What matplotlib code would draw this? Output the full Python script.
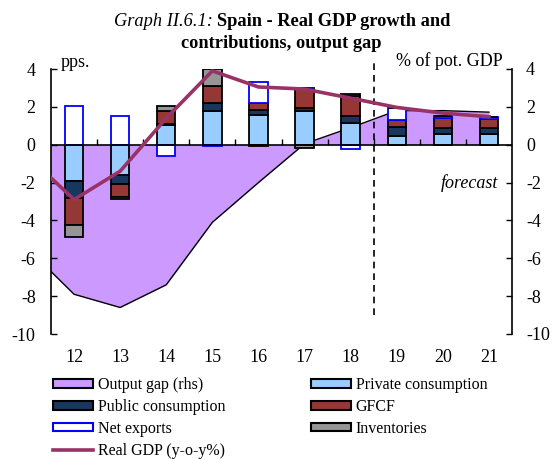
import numpy as np
import matplotlib
matplotlib.use('Agg')
import matplotlib.pyplot as plt
from matplotlib.patches import Patch
from matplotlib.lines import Line2D

plt.rcParams['font.family'] = ['Liberation Serif', 'DejaVu Serif']
plt.rcParams['axes.unicode_minus'] = False

years = ['12', '13', '14', '15', '16', '17', '18', '19', '20', '21']
# contributions (pps.)
private = [-1.9, -1.62, 1.06, 1.76, 1.58, 1.76, 1.14, 0.44, 0.58, 0.58]
public = [-0.9, -0.46, 0.04, 0.44, 0.27, 0.18, 0.36, 0.48, 0.30, 0.30]
gfcf = [-1.45, -0.7, 0.66, 0.88, 0.35, 1.05, 1.05, 0.40, 0.53, 0.48]
net_exports = [2.02, 1.53, -0.58, -0.05, 1.09, 0.0, -0.23, 0.62, 0.10, 0.10]
inventories = [-0.65, -0.09, 0.29, 0.92, -0.05, -0.15, 0.13, 0.0, 0.0, 0.0]
# lines start one year earlier (2011), clipped at the left edge
line_years = ['11'] + years
gdp = [-0.6, -2.9, -1.4, 1.4, 3.9, 3.05, 2.94, 2.46, 1.97, 1.67, 1.48]
output_gap = [-5.5, -7.9, -8.6, -7.4, -4.1, -2.0, 0.05, 0.9, 1.8, 1.8, 1.72]

c_gap = '#CC99FF'
c_priv = '#99CCFF'
c_pub = '#17375E'
c_gfcf = '#953735'
c_inv = '#969696'
c_nx = '#0000FF'
c_gdp = '#993366'

fig = plt.figure(figsize=(5.55, 4.59), dpi=100)
ax = fig.add_axes([51/555, 1-334/459, 461/555, 265/459])

x = np.arange(len(years))
xl = np.arange(len(line_years)) - 1

ax.fill_between(xl, output_gap, 0, color=c_gap, lw=0, zorder=1)
ax.plot(xl, output_gap, color='black', lw=1, zorder=1.5)

series = [(private, c_priv, 'black'), (public, c_pub, 'black'), (gfcf, c_gfcf, 'black'),
          (net_exports, 'white', c_nx), (inventories, c_inv, 'black')]
pos = np.zeros(len(x))
neg = np.zeros(len(x))
for vals, fc, ec in series:
    v = np.array(vals)
    bottom = np.where(v >= 0, pos, neg)
    ax.bar(x, v, 0.4, bottom=bottom, color=fc, edgecolor=ec, lw=1.3, zorder=2)
    pos += np.where(v >= 0, v, 0)
    neg += np.where(v < 0, v, 0)

ax.plot(xl, gdp, color=c_gdp, lw=2.6, zorder=4)
ax.axhline(0, color='black', lw=1.2, zorder=3)
ax.plot([6.5, 6.5], [-9.0, 4.3], color='black', lw=1.2, ls=(0, (4, 3)), zorder=3, clip_on=False)

ax.set_xlim(-0.5, 9.5)
ax.set_ylim(-10, 4)
ax.set_yticks(range(-10, 5, 2))
ax.set_xticks(x)
ax.set_xticklabels(years)
ax.set_xticks(np.arange(0.5, 9.5, 1), minor=True)
ax.spines['top'].set_visible(False)
ax.spines['right'].set_visible(False)
ax.spines['bottom'].set_position(('data', 0))
ax.spines['bottom'].set_visible(False)
ax.tick_params(axis='x', which='major', length=0, pad=147, labelsize=13)
ax.tick_params(axis='x', which='minor', direction='in', length=4, width=1, top=False)
ax.tick_params(axis='y', direction='in', length=4, width=1, pad=11, labelsize=13)
ax.spines['left'].set_linewidth(1.2)

ax2 = ax.twinx()
ax2.set_ylim(-10, 4)
ax2.set_yticks(range(-10, 5, 2))
for s in ['top', 'left', 'bottom']:
    ax2.spines[s].set_visible(False)
ax2.spines['right'].set_linewidth(1.2)
ax2.tick_params(axis='y', direction='in', length=4, width=1, pad=10, labelsize=13)

ax.text(0.02, 1.025, 'pps.', transform=ax.transAxes, fontsize=13, ha='left', va='center')
ax.text(0.98, 1.03, '% of pot. GDP', transform=ax.transAxes, fontsize=13, ha='right', va='center')
ax.text(0.97, 0.57, 'forecast', transform=ax.transAxes, fontsize=13, ha='right', va='center', style='italic')

fig.text(217/555, 1-21/459, 'Graph II.6.1: ', style='italic', fontsize=13.2, ha='right', va='center')
fig.text(217/555, 1-21/459, 'Spain - Real GDP growth and', weight='bold', fontsize=13.2, ha='left', va='center')
fig.text(281/555, 1-43/459, 'contributions, output gap', weight='bold', fontsize=13.2, ha='center', va='center')

def patch(fc, ec='black'):
    return Patch(facecolor=fc, edgecolor=ec, lw=1.5)

h1 = [patch(c_gap), patch(c_pub), patch('white', c_nx), Line2D([], [], color=c_gdp, lw=2.6)]
l1 = ['Output gap (rhs)', 'Public consumption', 'Net exports', 'Real GDP (y-o-y%)']
h2 = [patch(c_priv), patch(c_gfcf), patch(c_inv)]
l2 = ['Private consumption', 'GFCF', 'Inventories']
kw = dict(frameon=False, fontsize=11.5, handlelength=2.5, handleheight=0.45, handletextpad=0.3,
          labelspacing=0.37, borderpad=0, borderaxespad=0, loc='upper left')
leg1 = fig.legend(h1, l1, bbox_to_anchor=(53/555, 1-377/459), **kw)
leg2 = fig.legend(h2, l2, bbox_to_anchor=(311/555, 1-377/459), **kw)

fig.savefig('out.png', dpi=100)
